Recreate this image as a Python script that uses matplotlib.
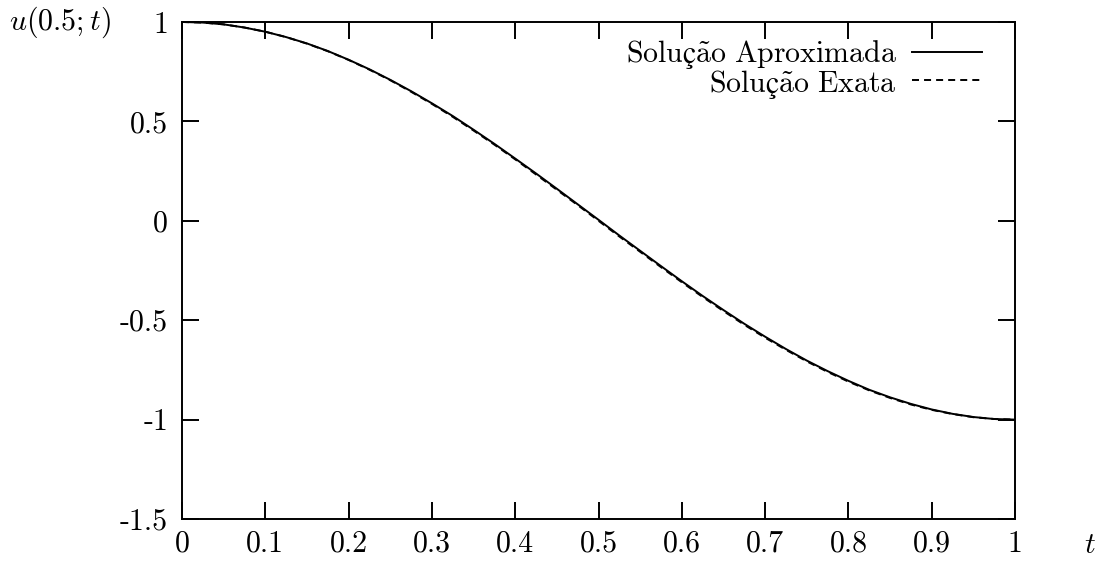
import matplotlib
matplotlib.use("Agg")
import matplotlib.pyplot as plt
from matplotlib.lines import Line2D

plt.rcParams['font.family'] = ['cmr10', 'DejaVu Serif']
plt.rcParams['mathtext.fontset'] = 'cm'
plt.rcParams['axes.unicode_minus'] = False

# u(0.5;t) sampled every 0.025 in t
t = [0.0, 0.025, 0.05, 0.075, 0.1, 0.125, 0.15, 0.175, 0.2, 0.225,
     0.25, 0.275, 0.3, 0.325, 0.35, 0.375, 0.4, 0.425, 0.45, 0.475,
     0.5, 0.525, 0.55, 0.575, 0.6, 0.625, 0.65, 0.675, 0.7, 0.725,
     0.75, 0.775, 0.8, 0.825, 0.85, 0.875, 0.9, 0.925, 0.95, 0.975, 1.0]

u_exata = [1.0, 0.997, 0.988, 0.972, 0.951, 0.924, 0.891, 0.853, 0.809, 0.760,
           0.707, 0.649, 0.588, 0.523, 0.454, 0.383, 0.309, 0.233, 0.156, 0.079,
           0.0, -0.079, -0.156, -0.233, -0.309, -0.383, -0.454, -0.523, -0.588, -0.649,
           -0.707, -0.760, -0.809, -0.853, -0.891, -0.924, -0.951, -0.972, -0.988, -0.997, -1.0]

u_aprox = [1.0, 0.997, 0.988, 0.972, 0.951, 0.924, 0.892, 0.854, 0.810, 0.762,
           0.709, 0.652, 0.591, 0.527, 0.458, 0.387, 0.313, 0.238, 0.161, 0.083,
           0.005, -0.074, -0.151, -0.228, -0.304, -0.378, -0.449, -0.518, -0.583, -0.645,
           -0.703, -0.756, -0.805, -0.850, -0.888, -0.921, -0.949, -0.971, -0.987, -0.997, -1.0]

xticks = [0, 0.1, 0.2, 0.3, 0.4, 0.5, 0.6, 0.7, 0.8, 0.9, 1]
xtick_labels = ["0", "0.1", "0.2", "0.3", "0.4", "0.5", "0.6", "0.7", "0.8", "0.9", "1"]
yticks = [-1.5, -1, -0.5, 0, 0.5, 1]
ytick_labels = ["-1.5", "-1", "-0.5", "0", "0.5", "1"]

# cm mathtext for the accents, so the key text stays in Computer Modern
labels = [r"$\mathrm{Soluç\~ao\ Aproximada}$",
          r"$\mathrm{Soluç\~ao\ Exata}$"]

fig = plt.figure(figsize=(11.01, 5.62), dpi=100)
ax = fig.add_axes([0.1653, 0.0765, 0.9219 - 0.1653, 0.9609 - 0.0765])

dash = (3.6, 2.6)
ax.plot(t, u_aprox, color="black", lw=1.4)
ax.plot(t, u_exata, color="black", lw=1.4, dashes=dash)

ax.set_xlim(0, 1)
ax.set_ylim(-1.5, 1)
ax.set_xticks(xticks)
ax.set_xticklabels(xtick_labels)
ax.set_yticks(yticks)
ax.set_yticklabels(ytick_labels)
ax.tick_params(direction="in", length=12, width=1.4, labelsize=21.5,
               top=True, right=True)
ax.tick_params(axis="x", pad=8)
ax.tick_params(axis="y", pad=10)
for s in ax.spines.values():
    s.set_linewidth(1.4)

ax.set_ylabel(r"$u(0.5;t)$", rotation=0, fontsize=21.5, ha="center", va="center")
ax.yaxis.set_label_coords(-0.146, 1.0)
ax.set_xlabel(r"$t$", fontsize=21.5, ha="center", va="center")
ax.xaxis.set_label_coords(1.09, -0.052)

# key in the upper right, text right-aligned before the line sample
key_rows = [0.940, 0.883]
text_rows = [0.9185, 0.859]
styles = [dict(), dict(dashes=dash)]
for lab, yk, yt, st in zip(labels, key_rows, text_rows, styles):
    ax.text(0.858, yt, lab, transform=ax.transAxes, ha="right", va="baseline",
            fontsize=21.5)
    ax.add_line(Line2D([0.876, 0.96], [yk, yk], transform=ax.transAxes,
                       color="black", lw=1.4, **st))

fig.savefig("out.png", dpi=100)
